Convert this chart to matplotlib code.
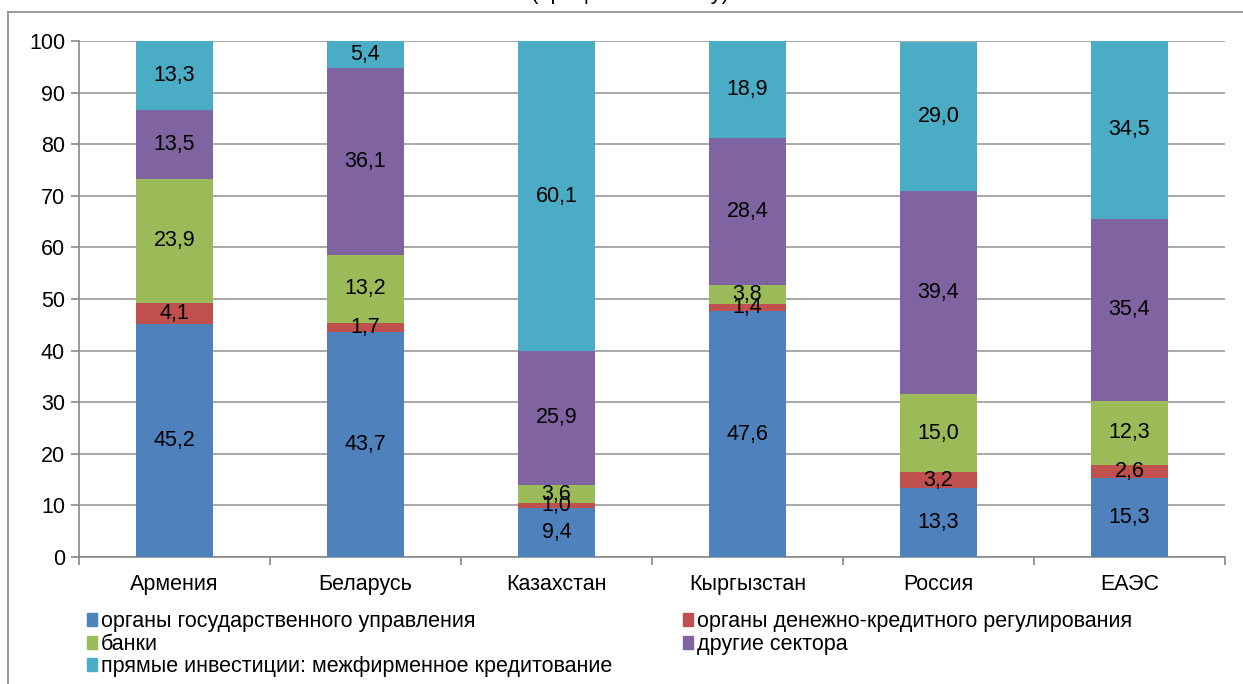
import numpy as np
import matplotlib.pyplot as plt
from matplotlib.lines import Line2D
from matplotlib.patches import Patch

plt.rcParams["font.family"] = ["Liberation Sans", "DejaVu Sans"]

countries = ["Армения", "Беларусь", "Казахстан", "Кыргызстан", "Россия", "ЕАЭС"]
series_names = [
  "органы государственного управления",
  "органы денежно-кредитного регулирования",
  "банки",
  "другие сектора",
  "прямые инвестиции: межфирменное кредитование",
]
gov    = [45.2, 43.7, 9.4, 47.6, 13.3, 15.3]
cbank  = [4.1, 1.7, 1.0, 1.4, 3.2, 2.6]
banks  = [23.9, 13.2, 3.6, 3.8, 15.0, 12.3]
other  = [13.5, 36.1, 25.9, 28.4, 39.4, 35.4]
direct = [13.3, 5.4, 60.1, 18.9, 29.0, 34.5]

colors = ["#4F81BD", "#C0504D", "#9BBB59", "#8064A2", "#4BACC6"]
FS = 15.5

fig = plt.figure(figsize=(12.43, 6.84), dpi=100)
ax = fig.add_axes([79 / 1243, 0.1857, 1146 / 1243, 0.7543])

x = np.arange(len(countries))
bottom = np.zeros(len(countries))
for vals, col in zip([gov, cbank, banks, other, direct], colors):
  vals = np.array(vals)
  ax.bar(x, vals, 0.4, bottom=bottom, color=col, zorder=3)
  for xi, b, v in zip(x, bottom, vals):
    # segments that run past 100 get their label centred in the visible part
    yc = min(b + v / 2, (b + 100) / 2)
    ax.text(xi, yc, f"{v:.1f}".replace(".", ","), ha="center", va="center",
            fontsize=FS, zorder=4)
  bottom += vals

ax.set_xlim(-0.5, len(countries) - 0.5)
ax.set_ylim(0, 100)
ax.set_yticks(np.arange(0, 101, 10))
ax.yaxis.grid(True, color="#999999", linewidth=1.2, zorder=0)
ax.set_axisbelow(True)

ax.set_xticks(x)
ax.set_xticklabels(countries, fontsize=FS)
ax.set_xticks(np.arange(-0.5, len(countries)), minor=True)
ax.tick_params(axis="x", which="major", length=0, pad=12)
ax.tick_params(axis="x", which="minor", length=6, color="#888888", width=1.2)
ax.tick_params(axis="y", length=6, color="#888888", width=1.2, labelsize=FS, pad=4)

for s in ["top", "right"]:
  ax.spines[s].set_visible(False)
for s in ["left", "bottom"]:
  ax.spines[s].set_color("#888888")
  ax.spines[s].set_linewidth(1.2)

# outer chart frame, partly cut off
fig.add_artist(Line2D([8 / 1243, 1.0], [1 - 12 / 684, 1 - 12 / 684],
                      color="#888888", linewidth=1.2))
fig.add_artist(Line2D([8 / 1243, 8 / 1243], [0.0, 1 - 12 / 684],
                      color="#888888", linewidth=1.2))

# title, mostly outside the picture
fig.text(0.507, 1.0 + 6 / 684, "(процентов к итогу)", ha="center", va="center",
         fontsize=16)

h = [Patch(color=c) for c in colors]
kw = dict(frameon=False, fontsize=FS, handlelength=0.45, handleheight=0.55,
          handletextpad=0.2, labelspacing=0.08, borderaxespad=0, borderpad=0)
fig.legend([h[0], h[2], h[4]], [series_names[0], series_names[2], series_names[4]],
           loc="upper left", bbox_to_anchor=(87 / 1243, 1 - 611 / 684), **kw)
fig.legend([h[1], h[3]], [series_names[1], series_names[3]],
           loc="upper left", bbox_to_anchor=(683 / 1243, 1 - 611 / 684), **kw)

fig.savefig("out.png", dpi=100)
